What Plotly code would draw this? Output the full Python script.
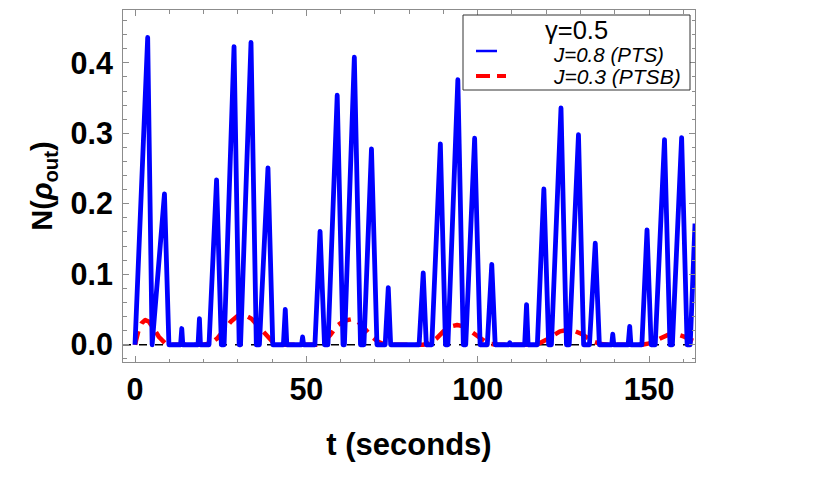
import plotly.graph_objects as go

# ---------------- data ----------------
# J=0.8 (PTS): piecewise vertices of the negativity curve
blue_t = [
    0.0, 3.7, 5.0, 8.6, 9.9,
    13.3, 13.65, 13.95,
    18.4, 18.8, 19.1,
    21.6, 23.8, 25.2,
    26.0, 28.9, 30.4,
    30.8, 33.85, 35.4,
    36.3, 38.8, 40.2,
    43.3, 43.85, 44.3,
    48.6, 48.9, 49.2,
    52.5, 54.0, 55.3,
    56.3, 59.0, 60.7,
    61.1, 64.0, 65.8,
    66.8, 69.0, 70.6,
    73.0, 73.9, 74.6,
    82.9, 84.1, 85.0,
    86.6, 89.1, 90.6,
    91.3, 94.2, 95.8,
    96.5, 99.1, 100.7,
    102.8, 104.1, 105.1,
    109.1, 109.35, 109.6,
    113.7, 114.25, 114.7,
    117.4, 119.3, 120.7,
    121.5, 124.3, 125.9,
    126.7, 129.4, 130.9,
    132.6, 134.3, 135.5,
    139.1, 139.4, 139.7,
    143.9, 144.35, 144.7,
    147.9, 149.4, 150.6,
    151.8, 154.5, 156.1,
    156.8, 159.5, 161.1,
    162.0, 163.4,
]
blue_n = [
    0.0, 0.436, 0.0, 0.214, 0.0,
    0.0, 0.023, 0.0,
    0.0, 0.037, 0.0,
    0.0, 0.234, 0.0,
    0.0, 0.423, 0.0,
    0.0, 0.429, 0.0,
    0.0, 0.251, 0.0,
    0.0, 0.050, 0.0,
    0.0, 0.011, 0.0,
    0.0, 0.161, 0.0,
    0.0, 0.354, 0.0,
    0.0, 0.408, 0.0,
    0.0, 0.278, 0.0,
    0.0, 0.081, 0.0,
    0.0, 0.102, 0.0,
    0.0, 0.285, 0.0,
    0.0, 0.376, 0.0,
    0.0, 0.293, 0.0,
    0.0, 0.114, 0.0,
    0.0, 0.003, 0.0,
    0.0, 0.057, 0.0,
    0.0, 0.221, 0.0,
    0.0, 0.336, 0.0,
    0.0, 0.298, 0.0,
    0.0, 0.144, 0.0,
    0.0, 0.015, 0.0,
    0.0, 0.026, 0.0,
    0.0, 0.163, 0.0,
    0.0, 0.291, 0.0,
    0.0, 0.294, 0.0,
    0.0, 0.172,
]

# J=0.3 (PTSB)
red_t = [0, 1, 2, 3, 4, 5, 6, 7, 8, 9, 10,
         20, 22, 24, 26, 28, 30, 32, 34, 36, 38, 40, 42,
         53, 55, 57, 59, 61, 63, 65, 67, 69, 71, 73,
         84, 86, 88, 90, 92, 94, 96, 98, 100, 102, 104, 106,
         116, 118, 120, 122, 124, 126, 128, 130, 132, 134, 136, 138,
         148, 150, 152, 154, 156, 158, 160, 162, 163.4]
red_n = [0.0, 0.020, 0.031, 0.035, 0.033, 0.027, 0.019, 0.011, 0.005, 0.001, 0.0,
         0.0, 0.002, 0.009, 0.021, 0.033, 0.041, 0.042, 0.037, 0.027, 0.015, 0.005, 0.0,
         0.0, 0.004, 0.014, 0.027, 0.034, 0.036, 0.033, 0.023, 0.012, 0.004, 0.0,
         0.0, 0.002, 0.009, 0.019, 0.026, 0.028, 0.026, 0.019, 0.011, 0.005, 0.001, 0.0,
         0.0, 0.002, 0.007, 0.013, 0.019, 0.021, 0.020, 0.016, 0.010, 0.004, 0.001, 0.0,
         0.0, 0.002, 0.006, 0.011, 0.015, 0.015, 0.012, 0.007, 0.005]

x_ticks = [0, 50, 100, 150]
y_ticks = [0.0, 0.1, 0.2, 0.3, 0.4]
legend_title = "γ=0.5"
blue_name = "J=0.8 (PTS)"
red_name = "J=0.3 (PTSB)"

# ---------------- figure ----------------
FONT = "Liberation Sans, Arial, sans-serif"
FRAME = "#8c8c8c"

fig = go.Figure()
fig.add_trace(go.Scatter(x=red_t, y=red_n, mode="lines", name=red_name,
                         line=dict(color="#ff0000", width=4.5, dash="14px,8px"),
                         showlegend=False))
fig.add_trace(go.Scatter(x=blue_t, y=blue_n, mode="lines", name=blue_name,
                         line=dict(color="#0000ff", width=4.8),
                         showlegend=False))

axis_common = dict(
    showgrid=False, zeroline=False, showline=True, linecolor=FRAME, linewidth=1,
    mirror="ticks", ticks="inside", ticklen=6, tickwidth=1, tickcolor=FRAME,
    tickfont=dict(family=FONT, size=30.5, color="black", weight="bold"),
)

fig.update_layout(
    width=813, height=484,
    margin=dict(l=123, r=118, t=10, b=122),
    paper_bgcolor="white", plot_bgcolor="white",
    font=dict(family=FONT, color="black"),
    xaxis=dict(range=[-3.5, 163.4], tickvals=x_ticks,
               ticklabelstandoff=0,
               minor=dict(dtick=10, tick0=0, ticks="inside", ticklen=3.5,
                          tickcolor=FRAME, tickwidth=1),
               title=dict(text="t (seconds)", standoff=28,
                          font=dict(family=FONT, size=31, weight="bold")),
               **axis_common),
    yaxis=dict(range=[-0.0245, 0.475], tickvals=y_ticks, tickformat=".1f",
               ticklabelstandoff=3,
               minor=dict(dtick=0.02, tick0=0, ticks="inside", ticklen=3.5,
                          tickcolor=FRAME, tickwidth=1),
               title=dict(text="N(<i>ρ</i><sub>out</sub>)", standoff=9,
                          font=dict(family=FONT, size=29, weight="bold")),
               **axis_common),
)

# zero reference line
fig.add_shape(type="line", xref="x domain", yref="y", x0=0, x1=1, y0=0, y1=0,
              line=dict(color="black", width=1.6, dash="8px,8px"), layer="below")

# legend (Mathematica style box)
def px_x(px):
    return (px - 123) / 572.0

def px_y(py):
    return (362 - py) / 352.0

fig.add_shape(type="rect", xref="paper", yref="paper",
              x0=px_x(463), x1=px_x(690), y0=px_y(90), y1=px_y(15),
              line=dict(color="#333333", width=1), fillcolor="white", layer="above")
fig.add_shape(type="line", xref="paper", yref="paper",
              x0=px_x(476), x1=px_x(497), y0=px_y(51), y1=px_y(51),
              line=dict(color="#0000ff", width=2.5), layer="above")
fig.add_shape(type="line", xref="paper", yref="paper",
              x0=px_x(476), x1=px_x(506), y0=px_y(76), y1=px_y(76),
              line=dict(color="#ff0000", width=3.8, dash="14px,7px"), layer="above")
fig.add_annotation(xref="paper", yref="paper", x=px_x(576), y=px_y(30),
                   text=legend_title, showarrow=False, xanchor="center", yanchor="middle",
                   font=dict(family=FONT, size=25.5, color="black"))
fig.add_annotation(xref="paper", yref="paper", x=px_x(551), y=px_y(54),
                   text="<i>" + blue_name + "</i>", showarrow=False,
                   xanchor="left", yanchor="middle",
                   font=dict(family=FONT, size=20.5, color="black"))
fig.add_annotation(xref="paper", yref="paper", x=px_x(551), y=px_y(77),
                   text="<i>" + red_name + "</i>", showarrow=False,
                   xanchor="left", yanchor="middle",
                   font=dict(family=FONT, size=21, color="black"))

js = ("document.querySelectorAll('.scatterlayer .js-line').forEach(function(p){"
      "p.style.strokeLinejoin='round';});")
fig.write_html("out.html", post_script=js)
